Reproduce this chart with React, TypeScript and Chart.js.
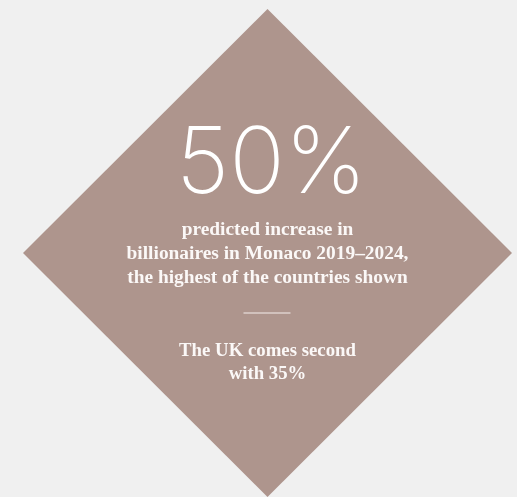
import React, { useEffect, useRef } from "react";
import { Chart, registerables } from "chart.js";

Chart.register(...registerables);

// Diamond outline (unit square rotated 45°), closed
const diamondX = [0, 1, 0, -1, 0];
const diamondY = [1, 0, -1, 0, 1];

const headline = "50%";
const bodyLines = [
  "predicted increase in",
  "billionaires in Monaco 2019–2024,",
  "the highest of the countries shown",
];
const footLines = ["The UK comes second", "with 35%"];

const BG = "#f0f0f0";
const DIAMOND = "#ae958d";

export default function App() {
  const ref = useRef<HTMLCanvasElement>(null);

  useEffect(() => {
    if (!ref.current) return;
    const textPlugin = {
      id: "diamondText",
      afterDatasetsDraw(chart: any) {
        const ctx = chart.ctx;
        const xs = chart.scales.x;
        const ys = chart.scales.y;
        const cx = xs.getPixelForValue(0);
        const cy = ys.getPixelForValue(0);
        ctx.save();
        ctx.fillStyle = "#ffffff";
        ctx.textAlign = "center";
        ctx.textBaseline = "alphabetic";
        ctx.font = "200 92px Inter";
        ctx.fillText(headline, cx + 4, cy - 60);
        ctx.fillStyle = "#fbf8f7";
        ctx.font = "bold 19.4px 'Liberation Serif'";
        bodyLines.forEach((t, i) => ctx.fillText(t, cx, cy - 18 + i * 24));
        ctx.strokeStyle = "#ddd1cd";
        ctx.lineWidth = 1.5;
        ctx.beginPath();
        ctx.moveTo(cx - 24, cy + 60);
        ctx.lineTo(cx + 23, cy + 60);
        ctx.stroke();
        ctx.font = "bold 18.8px 'Liberation Serif'";
        footLines.forEach((t, i) => ctx.fillText(t, cx, cy + 103 + i * 23));
        ctx.restore();
      },
    };
    const chart = new Chart(ref.current, {
      type: "scatter",
      data: {
        datasets: [
          {
            data: diamondX.map((x, i) => ({ x, y: diamondY[i] })),
            showLine: true,
            fill: "shape",
            backgroundColor: DIAMOND,
            borderColor: DIAMOND,
            borderWidth: 0,
            pointRadius: 0,
            tension: 0,
          } as any,
        ],
      },
      options: {
        animation: false,
        responsive: false,
        maintainAspectRatio: false,
        layout: { padding: 0 },
        plugins: { legend: { display: false }, tooltip: { enabled: false } },
        scales: {
          x: { type: "linear", display: false, min: -1.094, max: 1.0204 },
          y: { type: "linear", display: false, min: -1.0, max: 1.037 },
        },
      },
      plugins: [textPlugin],
    });
    return () => chart.destroy();
  }, []);

  return (
    <div style={{ position: "fixed", left: 0, top: 0, width: 517, height: 497, background: BG }}>
      <canvas ref={ref} width={517} height={497} style={{ display: "block" }} />
    </div>
  );
}
